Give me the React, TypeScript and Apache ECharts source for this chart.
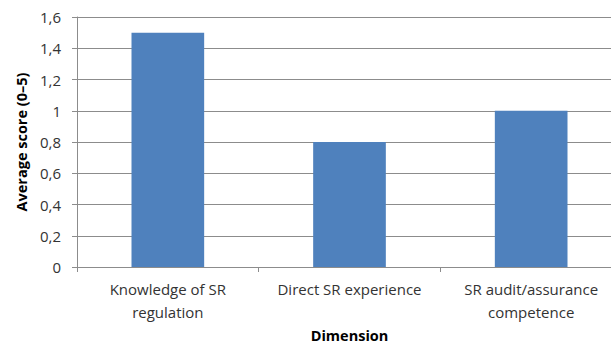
import React, { useEffect, useRef } from "react";
import * as echarts from "echarts";

const categories = ["Knowledge of SR\nregulation", "Direct SR experience", "SR audit/assurance\ncompetence"];
const values = [1.5, 0.8, 1.0];
const yTicks = [0, 0.2, 0.4, 0.6, 0.8, 1.0, 1.2, 1.4, 1.6];

const FONT = "'Open Sans', 'Liberation Sans', sans-serif";
const GRID_COLOR = "#8c8c8c";

export default function App() {
  const ref = useRef<HTMLDivElement>(null);
  useEffect(() => {
    if (!ref.current) return;
    const chart = echarts.init(ref.current, null, { renderer: "svg" });
    chart.setOption({
      animation: false,
      grid: [
        { left: 77, right: -11, top: 17, bottom: 78, outerBoundsMode: "none", containLabel: false },
      ],
      xAxis: [
        {
          type: "category",
          data: categories,
          name: "Dimension",
          nameLocation: "middle",
          nameGap: 60,
          nameTextStyle: { fontFamily: FONT, fontSize: 14.5, fontWeight: "bold", color: "#000" },
          axisLine: { show: true, lineStyle: { color: GRID_COLOR, width: 1 } },
          axisTick: { show: true, length: 5, lineStyle: { color: GRID_COLOR } },
          axisLabel: {
            fontFamily: FONT,
            fontSize: 15,
            color: "#333",
            lineHeight: 23,
            margin: 10,
            interval: 0,
          },
        },
      ],
      yAxis: [
        {
          type: "value",
          min: 0,
          max: 1.6,
          interval: 0.2,
          name: "Average score (0–5)",
          nameLocation: "middle",
          nameGap: 48,
          nameTextStyle: { fontFamily: FONT, fontSize: 14.5, fontWeight: "bold", color: "#000" },
          axisLine: { show: true, lineStyle: { color: GRID_COLOR, width: 1 } },
          axisTick: { show: true, inside: false, length: 5, lineStyle: { color: GRID_COLOR } },
          splitLine: { show: true, lineStyle: { color: GRID_COLOR, width: 1 } },
          axisLabel: {
            fontFamily: FONT,
            fontSize: 15,
            color: "#333",
            margin: 16,
            formatter: (v: number) => {
              const t = yTicks.find((x) => Math.abs(x - v) < 1e-9);
              const val = t === undefined ? v : t;
              return String(Math.round(val * 10) / 10).replace(".", ",");
            },
          },
        },
      ],
      series: [
        {
          type: "bar",
          data: values,
          barWidth: "40%",
          itemStyle: { color: "#4F81BD" },
        },
      ],
    });
    return () => chart.dispose();
  }, []);
  return <div ref={ref} style={{ width: 611, height: 345, position: "absolute", left: 0, top: 0 }} />;
}
